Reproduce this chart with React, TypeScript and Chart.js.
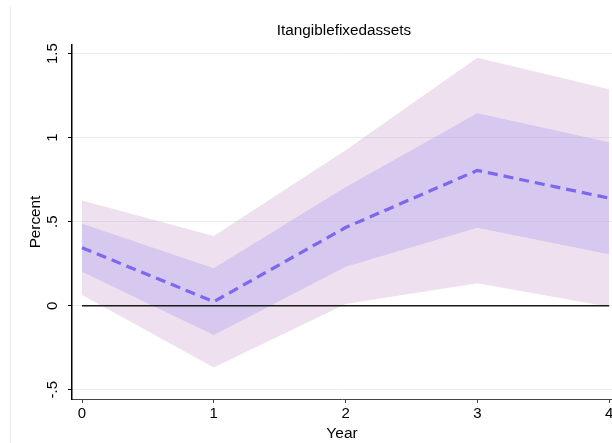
import React, { useEffect, useRef } from "react";
import { Chart, registerables } from "chart.js";

Chart.register(...registerables);

// Impulse response of intangible fixed assets, with two confidence bands
const years = [0, 1, 2, 3, 4];
const estimate = [0.345, 0.024, 0.465, 0.805, 0.64];
const innerUpper = [0.487, 0.223, 0.705, 1.145, 0.972];
const innerLower = [0.202, -0.174, 0.232, 0.464, 0.306];
const outerUpper = [0.626, 0.415, 0.925, 1.475, 1.288];
const outerLower = [0.064, -0.367, 0.01, 0.133, -0.006];
const zeroLine = [0, 0, 0, 0, 0];

const yTicks = [-0.5, 0, 0.5, 1, 1.5];
const yTickLabels = ["-.5", "0", ".5", "1", "1.5"];

const titleText = "Itangiblefixedassets";
const xTitle = "Year";
const yTitle = "Percent";

const FONT = "'Liberation Sans', Arial, Helvetica, sans-serif";

const toPoints = (vals: number[]) => vals.map((v, i) => ({ x: years[i], y: v }));

// Title, rotated y tick labels and y title, plus the faint frame line on the left
const textPlugin = {
  id: "graphText",
  beforeDraw(chart: any) {
    const ctx = chart.ctx;
    ctx.save();
    ctx.strokeStyle = "#ececec";
    ctx.lineWidth = 1;
    ctx.beginPath();
    ctx.moveTo(10.5, 6);
    ctx.lineTo(10.5, chart.height);
    ctx.stroke();
    ctx.restore();
  },
  afterDraw(chart: any) {
    const ctx = chart.ctx;
    const yScale = chart.scales.y;
    const area = chart.chartArea;
    ctx.save();
    ctx.fillStyle = "#000";
    ctx.textAlign = "center";
    ctx.textBaseline = "middle";

    ctx.font = `15.3px ${FONT}`;
    ctx.fillText(titleText, 344, 31);

    ctx.font = `15px ${FONT}`;
    yTicks.forEach((v, i) => {
      const py = yScale.getPixelForValue(v);
      ctx.save();
      ctx.translate(53, py);
      ctx.rotate(-Math.PI / 2);
      ctx.fillText(yTickLabels[i], 0, 0);
      ctx.restore();
    });

    ctx.font = `15.3px ${FONT}`;
    ctx.save();
    ctx.translate(36, (area.top + area.bottom) / 2);
    ctx.rotate(-Math.PI / 2);
    ctx.fillText(yTitle, 0, 0);
    ctx.restore();

    ctx.restore();
  },
};

export default function App() {
  const canvasRef = useRef<HTMLCanvasElement | null>(null);

  useEffect(() => {
    const canvas = canvasRef.current;
    if (!canvas) return;

    const chart = new Chart(canvas, {
      type: "line",
      data: {
        datasets: [
          {
            label: "estimate",
            data: toPoints(estimate),
            borderColor: "#7b68ee",
            borderWidth: 3.2,
            borderDash: [10, 6],
            borderCapStyle: "butt",
            fill: false,
            pointRadius: 0,
          },
          {
            label: "zero",
            data: toPoints(zeroLine),
            borderColor: "#1a1a1a",
            borderWidth: 1.5,
            fill: false,
            pointRadius: 0,
          },
          {
            label: "inner upper",
            data: toPoints(innerUpper),
            borderColor: "transparent",
            borderWidth: 0,
            backgroundColor: "rgba(190,176,237,0.5)",
            fill: "+1",
            pointRadius: 0,
          },
          {
            label: "inner lower",
            data: toPoints(innerLower),
            borderColor: "transparent",
            borderWidth: 0,
            fill: false,
            pointRadius: 0,
          },
          {
            label: "outer upper",
            data: toPoints(outerUpper),
            borderColor: "transparent",
            borderWidth: 0,
            backgroundColor: "rgba(198,152,202,0.3)",
            fill: "+1",
            pointRadius: 0,
          },
          {
            label: "outer lower",
            data: toPoints(outerLower),
            borderColor: "transparent",
            borderWidth: 0,
            fill: false,
            pointRadius: 0,
          },
        ],
      },
      options: {
        animation: false,
        responsive: false,
        maintainAspectRatio: false,
        layout: { padding: { top: 45, left: 0, right: 0, bottom: 0 } },
        elements: { line: { tension: 0 }, point: { radius: 0 } },
        plugins: {
          legend: { display: false },
          tooltip: { enabled: false },
          title: { display: false },
        },
        scales: {
          x: {
            type: "linear",
            min: -0.076,
            max: 4.022,
            afterBuildTicks: (s: any) => {
              s.ticks = years.map((v) => ({ value: v }));
            },
            afterFit: (s: any) => {
              s.height = 44;
              s.paddingLeft = 0;
              s.paddingRight = 0;
            },
            grid: {
              drawOnChartArea: false,
              drawTicks: true,
              tickLength: 4,
              tickColor: "#444",
              tickWidth: 1,
            },
            border: { color: "#444", width: 1 },
            ticks: {
              font: { family: FONT, size: 15 },
              color: "#000",
              padding: 2,
              maxRotation: 0,
              autoSkip: false,
              callback: (v: any) => String(v),
            },
            title: {
              display: true,
              text: xTitle,
              font: { family: FONT, size: 15.5 },
              color: "#000",
              padding: { top: 0, bottom: 0 },
            },
          },
          y: {
            type: "linear",
            min: -0.555,
            max: 1.551,
            afterBuildTicks: (s: any) => {
              s.ticks = yTicks.map((v) => ({ value: v }));
            },
            afterFit: (s: any) => {
              s.width = 72;
              s.paddingTop = 0;
              s.paddingBottom = 0;
            },
            grid: {
              color: "#e3eef0",
              lineWidth: 1,
              drawTicks: true,
              tickLength: 4,
              tickColor: "#000",
            },
            border: { color: "#000", width: 1.5 },
            ticks: { display: false },
          },
        },
      },
      plugins: [textPlugin],
    } as any);

    return () => chart.destroy();
  }, []);

  return (
    <div style={{ position: "fixed", left: 0, top: 0, width: 612, height: 443, background: "#fff" }}>
      <canvas ref={canvasRef} width={612} height={443} style={{ display: "block" }} />
    </div>
  );
}
